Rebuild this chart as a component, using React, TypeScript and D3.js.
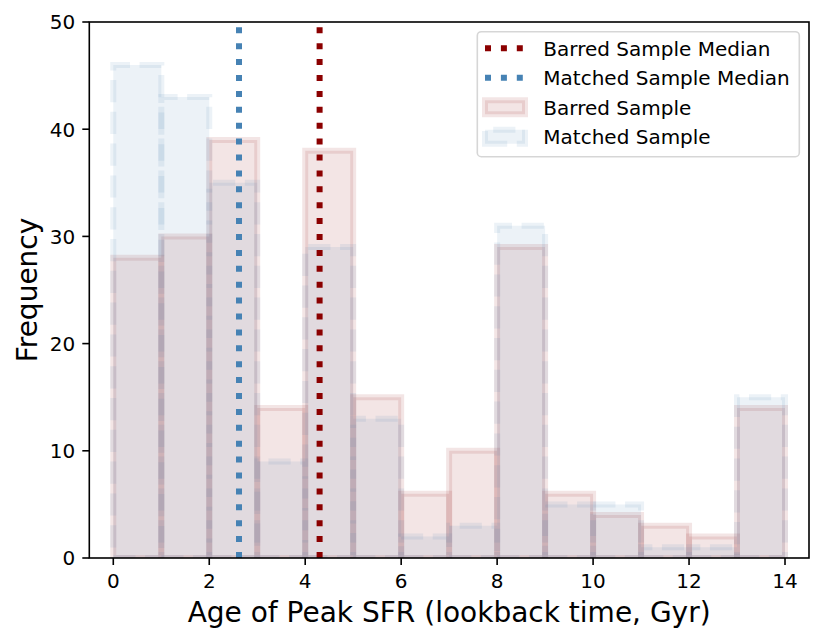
import { scaleLinear } from "d3";

const WIDTH = 831;
const HEIGHT = 642;

const MARGIN = {
  top: 22,
  right: 22,
  bottom: 84,
  left: 89.3,
};

// bin edges 0..14, width 1 Gyr
const BIN_EDGES = [0, 1, 2, 3, 4, 5, 6, 7, 8, 9, 10, 11, 12, 13, 14];
const BARRED_COUNTS = [28, 30, 39, 14, 38, 15, 6, 10, 29, 6, 4, 3, 2, 14];
const MATCHED_COUNTS = [46, 43, 35, 9, 29, 13, 2, 3, 31, 5, 5, 1, 1, 15];

const BARRED_MEDIAN = 4.3;
const MATCHED_MEDIAN = 2.62;

const X_TICKS = [0, 2, 4, 6, 8, 10, 12, 14];
const Y_TICKS = [0, 10, 20, 30, 40, 50];

const LEGEND_LABELS = [
  "Barred Sample Median",
  "Matched Sample Median",
  "Barred Sample",
  "Matched Sample",
];

const RED = "#8b0000";
const BLUE = "#4682b4";
const FONT = "DejaVu Sans, sans-serif";

export default function App() {
  const innerWidth = WIDTH - MARGIN.left - MARGIN.right;
  const innerHeight = HEIGHT - MARGIN.top - MARGIN.bottom;

  const xScale = scaleLinear().domain([-0.5, 14.5]).range([0, innerWidth]);
  const yScale = scaleLinear().domain([0, 50]).range([innerHeight, 0]);

  // matplotlib rectangle path: bottom-left -> bottom-right -> top-right -> top-left
  const barPath = (i: number, v: number) => {
    const x0 = xScale(BIN_EDGES[i]);
    const x1 = xScale(BIN_EDGES[i] + 1);
    const y0 = yScale(0);
    const y1 = yScale(v);
    return `M${x0},${y0}H${x1}V${y1}H${x0}Z`;
  };

  const legendX = 477.3 - MARGIN.left;
  const legendY = 31.7 - MARGIN.top;
  const rowY = (i: number) => 48.3 + i * 29.45 - MARGIN.top;
  const handleX0 = 485 - MARGIN.left;
  const textX = 543.3 - MARGIN.left;

  return (
    <svg
      width={WIDTH}
      height={HEIGHT}
      style={{ position: "absolute", left: 0, top: 0, background: "white" }}
      fontFamily={FONT}>
      <defs>
        <clipPath id="plot-area">
          <rect x={0} y={0} width={innerWidth} height={innerHeight} />
        </clipPath>
      </defs>
      <g transform={`translate(${MARGIN.left},${MARGIN.top})`}>
        <g clipPath="url(#plot-area)">
          {/* barred sample */}
          {BARRED_COUNTS.map((v, i) => (
            <path
              key={"b" + i}
              d={barPath(i, v)}
              fill={RED}
              fillOpacity={0.1}
              stroke={RED}
              strokeOpacity={0.1}
              strokeWidth={6}
            />
          ))}
          {/* matched sample */}
          {MATCHED_COUNTS.map((v, i) => (
            <path
              key={"m" + i}
              d={barPath(i, v)}
              fill={BLUE}
              fillOpacity={0.1}
              stroke={BLUE}
              strokeOpacity={0.1}
              strokeWidth={6}
              strokeDasharray="22.2 9.6"
            />
          ))}
          {/* medians */}
          <line
            x1={xScale(BARRED_MEDIAN)}
            x2={xScale(BARRED_MEDIAN)}
            y1={innerHeight}
            y2={0}
            stroke={RED}
            strokeWidth={6}
            strokeDasharray="6 9.9"
          />
          <line
            x1={xScale(MATCHED_MEDIAN)}
            x2={xScale(MATCHED_MEDIAN)}
            y1={innerHeight}
            y2={0}
            stroke={BLUE}
            strokeWidth={6}
            strokeDasharray="6 9.9"
          />
        </g>

        {/* AXES */}
        <rect
          x={0}
          y={0}
          width={innerWidth}
          height={innerHeight}
          fill="none"
          stroke="black"
          strokeWidth={1.6}
        />
        {X_TICKS.map(tick => (
          <g key={tick} transform={`translate(${xScale(tick)},${innerHeight})`}>
            <line y2={7} stroke="black" strokeWidth={1.6} />
            <text y={30} textAnchor="middle" fontSize={20}>
              {tick}
            </text>
          </g>
        ))}
        {Y_TICKS.map(tick => (
          <g key={tick} transform={`translate(0,${yScale(tick)})`}>
            <line x2={-7} stroke="black" strokeWidth={1.6} />
            <text x={-14} y={7.3} textAnchor="end" fontSize={20}>
              {tick}
            </text>
          </g>
        ))}

        <text
          x={innerWidth / 2}
          y={622 - MARGIN.top}
          textAnchor="middle"
          fontSize={28}>
          Age of Peak SFR (lookback time, Gyr)
        </text>
        <text
          transform={`translate(${37.3 - MARGIN.left},${innerHeight / 2}) rotate(-90)`}
          textAnchor="middle"
          fontSize={28}>
          Frequency
        </text>

        {/* LEGEND */}
        <rect
          x={legendX}
          y={legendY}
          width={799.3 - 477.3}
          height={156.7 - 31.7}
          rx={4}
          fill="white"
          fillOpacity={0.8}
          stroke="#cccccc"
          strokeOpacity={0.8}
          strokeWidth={1.6}
        />
        <line
          x1={handleX0}
          x2={handleX0 + 40}
          y1={rowY(0)}
          y2={rowY(0)}
          stroke={RED}
          strokeWidth={6}
          strokeDasharray="6 9.9"
        />
        <line
          x1={handleX0}
          x2={handleX0 + 40}
          y1={rowY(1)}
          y2={rowY(1)}
          stroke={BLUE}
          strokeWidth={6}
          strokeDasharray="6 9.9"
        />
        <path
          d={`M${handleX0},${rowY(2) + 7}H${handleX0 + 40}V${rowY(2) - 7}H${handleX0}Z`}
          fill={RED}
          fillOpacity={0.1}
          stroke={RED}
          strokeOpacity={0.1}
          strokeWidth={6}
        />
        <path
          d={`M${handleX0},${rowY(3) + 7}H${handleX0 + 40}V${rowY(3) - 7}H${handleX0}Z`}
          fill={BLUE}
          fillOpacity={0.1}
          stroke={BLUE}
          strokeOpacity={0.1}
          strokeWidth={6}
          strokeDasharray="22.2 9.6"
        />
        {LEGEND_LABELS.map((label, i) => (
          <text key={label} x={textX} y={rowY(i) + 7.3} fontSize={20}>
            {label}
          </text>
        ))}
      </g>
    </svg>
  );
}
